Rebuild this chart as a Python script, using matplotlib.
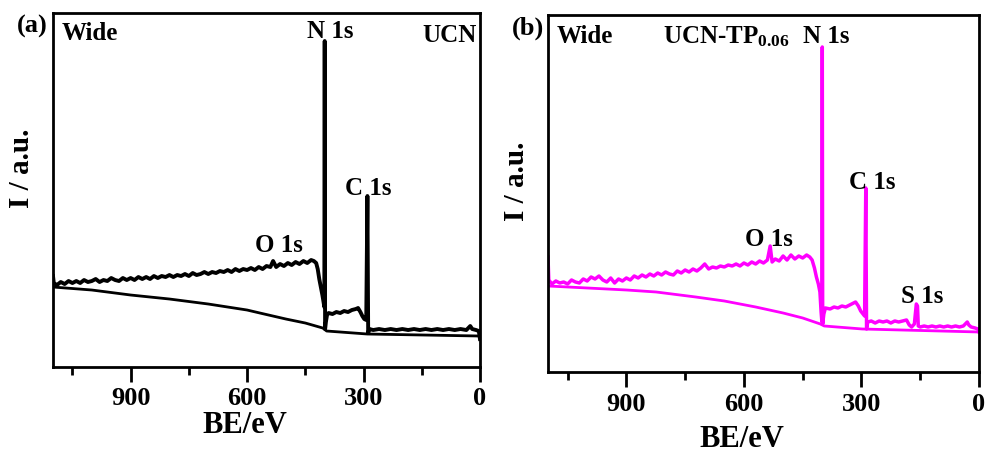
import matplotlib.pyplot as plt
from matplotlib.ticker import FixedLocator

plt.rcParams['font.family'] = 'Liberation Serif'
plt.rcParams['font.weight'] = 'bold'
plt.rcParams['mathtext.fontset'] = 'custom'
plt.rcParams['mathtext.bf'] = 'Liberation Serif:bold'
plt.rcParams['mathtext.rm'] = 'Liberation Serif:bold'
plt.rcParams['mathtext.default'] = 'bf'

# survey spectrum of UCN (binding energy in eV, intensity in a.u.)
be_ucn = [1100, 1098, 1090, 1080, 1070, 1060, 1050, 1040, 1030, 1020, 1010,
          1000, 990, 980, 970, 960, 950, 940, 930, 920, 910, 900, 890, 880,
          870, 860, 850, 840, 830, 820, 810, 800, 790, 780, 770, 760, 750,
          740, 730, 720, 710, 700, 690, 680, 670, 660, 650, 640, 630, 620,
          610, 600, 590, 580, 570, 560, 550, 540, 533, 525, 515, 505, 495,
          485, 475, 465, 455, 445, 435, 428, 422, 418, 414, 410, 406, 403,
          401, 400, 399, 397, 394, 390, 380, 370, 360, 350, 340, 330, 320,
          314, 308, 303, 298, 293, 290, 288, 285, 275, 260, 245, 230, 215,
          200, 185, 170, 155, 140, 125, 110, 95, 80, 65, 50, 35, 25, 20, 10,
          3, 0]
int_ucn = [91, 84, 82, 85, 83, 86, 84, 86, 84, 87, 85,
           86, 88, 85, 87, 86, 89, 87, 86, 89, 87, 89, 87, 90,
           88, 90, 88, 91, 89, 91, 90, 92, 90, 92, 91, 93, 91,
           94, 92, 93, 95, 93, 95, 94, 96, 95, 97, 95, 98, 96,
           98, 97, 99, 97, 100, 98, 101, 100, 106, 100, 103, 101, 104,
           102, 105, 103, 106, 104, 107, 106, 104, 98, 88, 80, 72, 65,
           60, 326, 38, 45, 52, 54, 53, 55, 54, 56, 55, 57, 58,
           59, 55, 51, 48, 47, 171, 34, 38, 37, 38, 37, 38, 37,
           38, 37, 38, 37, 38, 37, 38, 37, 38, 37, 38, 37, 41, 38, 37,
           36, 28]
bg_be_ucn = [1100, 1000, 900, 800, 700, 600, 567, 500, 450, 405, 395, 290, 0]
bg_ucn = [80, 77, 72, 68, 63, 57, 54, 48, 44, 39, 36, 33, 31]

# survey spectrum of UCN-TP0.06
be_tp = [1100, 1098, 1090, 1080, 1070, 1060, 1050, 1040, 1030, 1020, 1010,
         1000, 990, 980, 970, 960, 950, 940, 930, 920, 910, 900, 890, 880,
         870, 860, 850, 840, 830, 820, 810, 800, 790, 780, 770, 760, 750,
         740, 730, 720, 710, 700, 690, 680, 670, 660, 650, 640, 630, 620,
         610, 600, 590, 580, 570, 560, 550, 540, 533, 528, 520, 510, 500,
         490, 480, 470, 460, 450, 440, 432, 426, 420, 415, 410, 406, 403,
         401, 400, 399, 396, 392, 380, 370, 360, 350, 340, 330, 320, 315,
         308, 302, 296, 292, 289, 287, 284, 275, 265, 255, 245, 235, 225,
         215, 205, 195, 185, 178, 172, 165, 160, 157, 155, 150, 140, 130,
         120, 110, 100, 90, 80, 70, 60, 50, 40, 30, 26, 20, 10, 3, 0]
int_tp = [115, 92, 88, 91, 89, 90, 88, 92, 90, 89, 93,
          91, 95, 93, 96, 92, 90, 94, 89, 93, 91, 94, 92, 96,
          94, 97, 95, 98, 96, 99, 97, 100, 98, 97, 101, 99, 102,
          100, 103, 101, 104, 108, 103, 105, 104, 106, 105, 107, 106, 108,
          106, 109, 107, 110, 108, 111, 109, 112, 126, 110, 113, 111, 116,
          112, 117, 113, 116, 114, 117, 115, 112, 104, 95, 88, 80, 60,
          50, 325, 48, 58, 64, 63, 65, 64, 66, 65, 67, 69, 70,
          66, 61, 58, 56, 184, 43, 50, 51, 49, 51, 50, 51, 49,
          51, 50, 51, 52, 47, 45, 48, 68, 66, 46, 45, 46, 45,
          46, 45, 46, 45, 46, 45, 46, 45, 46, 50, 47, 45, 44, 43, 40]
bg_be_tp = [1100, 1000, 900, 824, 723, 650, 570, 500, 450, 405, 395, 298, 0]
bg_tp = [86, 84, 82, 80, 75, 71, 65, 59, 54, 48, 46, 43, 40]

major_ticks = [900, 600, 300, 0]
minor_ticks = [1050, 750, 450, 150]

fig = plt.figure(figsize=(9.89, 4.52), dpi=100)
ax1 = fig.add_axes([0.0536, 0.1858, 0.4317, 0.7832])
ax2 = fig.add_axes([0.5541, 0.1748, 0.4358, 0.7898])


def style_axes(ax, ytop, pad, xlab_y, ylab_x, ylab_y):
    ax.set_xlim(1100, 0)
    ax.set_ylim(0, ytop)
    ax.set_yticks([])
    ax.xaxis.set_major_locator(FixedLocator(major_ticks))
    ax.xaxis.set_minor_locator(FixedLocator(minor_ticks))
    ax.tick_params(axis='x', which='major', direction='out', length=10.5,
                   width=2, labelsize=19, pad=pad)
    ax.tick_params(axis='x', which='minor', direction='out', length=6,
                   width=2)
    for sp in ax.spines.values():
        sp.set_linewidth(2)
    ax.set_xlabel('BE/eV', fontsize=22, fontweight='bold', va='center')
    ax.xaxis.set_label_coords(0.45, xlab_y)
    ax.set_ylabel('I / a.u.', fontsize=21, fontweight='bold', va='center')
    ax.yaxis.set_label_coords(ylab_x, ylab_y)


style_axes(ax1, 354, 3, -0.162, -0.073, 0.565)
style_axes(ax2, 357, 4, -0.185, -0.074, 0.538)

ax1.plot(be_ucn, int_ucn, color='black', lw=2.8)
ax1.plot(bg_be_ucn, bg_ucn, color='black', lw=2.0)
ax2.plot(be_tp, int_tp, color='#ff00ff', lw=2.5)
ax2.plot(bg_be_tp, bg_tp, color='#ff00ff', lw=2.0)

fs = 18
tr1 = ax1.get_xaxis_transform()
ax1.text(0.021, 0.927, 'Wide', transform=ax1.transAxes, fontsize=fs)
ax1.text(0.993, 0.921, 'UCN', transform=ax1.transAxes, fontsize=fs, ha='right')
ax1.text(387, 0.932, 'N 1s', transform=tr1, fontsize=fs, ha='center')
ax1.text(289, 173, 'C 1s', fontsize=fs, ha='center')
ax1.text(518, 116, 'O 1s', fontsize=fs, ha='center')

tr2 = ax2.get_xaxis_transform()
ax2.text(0.021, 0.924, 'Wide', transform=ax2.transAxes, fontsize=fs)
ax2.text(0.267, 0.924, r'UCN-TP$_{0.06}$', transform=ax2.transAxes, fontsize=fs)
ax2.text(390, 0.924, 'N 1s', transform=tr2, fontsize=fs, ha='center')
ax2.text(272, 184, 'C 1s', fontsize=fs, ha='center')
ax2.text(535, 127, 'O 1s', fontsize=fs, ha='center')
ax2.text(145, 70, 'S 1s', fontsize=fs, ha='center')

fig.text(0.017, 0.927, '(a)', fontsize=19)
fig.text(0.518, 0.923, '(b)', fontsize=19)

fig.savefig('out.png', dpi=100)
